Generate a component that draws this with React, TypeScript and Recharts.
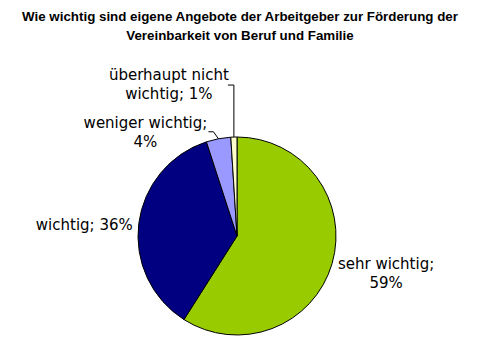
import { PieChart, Pie, Cell } from "recharts";

const categories = ["sehr wichtig", "wichtig", "weniger wichtig", "überhaupt nicht wichtig"];
const shares = [59, 36, 4, 1];
const labelLines = [
  ["sehr wichtig;", "59%"],
  ["wichtig; 36%"],
  ["weniger wichtig;", "4%"],
  ["überhaupt nicht", "wichtig; 1%"],
];

const COLORS = ["#99CC00", "#000080", "#9999FF", "#FFFFCC"];
const RAD = Math.PI / 180;

const data = categories.map((name, i) => ({ name, value: shares[i] }));

// label placement relative to the arc point at each slice's middle
const LAYOUT = [
  { dx: 54, dy: 5, anchor: "middle", leader: null },
  { dx: -6, dy: 6, anchor: "end", leader: null },
  { dx: -73, dy: -11, anchor: "middle", leader: [[0, 0], [-5, -7], [-10, -7]] },
  { dx: -65, dy: -57, anchor: "middle", leader: [[0, 0], [0, -52], [-6, -52]] },
];

function renderLabel(props: any) {
  const { cx, cy, midAngle, outerRadius, index } = props;
  const px = cx + outerRadius * Math.cos(-midAngle * RAD);
  const py = cy + outerRadius * Math.sin(-midAngle * RAD);
  const l = LAYOUT[index];
  const lines = labelLines[index];
  return (
    <g key={`lbl-${index}`}>
      {l.leader && (
        <polyline
          points={l.leader.map(([x, y]) => `${px + x},${py + y}`).join(" ")}
          fill="none"
          stroke="#000"
          strokeWidth={1}
        />
      )}
      <text
        x={px + l.dx}
        y={py + l.dy}
        textAnchor={l.anchor as any}
        fontFamily="DejaVu Sans, Verdana, sans-serif"
        fontSize={15}
        fill="#000"
      >
        {lines.map((t, j) => (
          <tspan key={j} x={px + l.dx} dy={j === 0 ? 0 : 19}>
            {t}
          </tspan>
        ))}
      </text>
    </g>
  );
}

export default function App() {
  return (
    <div style={{ position: "absolute", left: 0, top: 0, width: 477, height: 361, background: "#fff" }}>
      <div
        style={{
          position: "absolute",
          left: 0,
          top: 7,
          width: 480,
          textAlign: "center",
          fontFamily: "'Liberation Sans', Arial, sans-serif",
          fontWeight: "bold",
          fontSize: 13.33,
          lineHeight: "19px",
          color: "#000",
        }}
      >
        Wie wichtig sind eigene Angebote der Arbeitgeber zur Förderung der
        <br />
        Vereinbarkeit von Beruf und Familie
      </div>
      <PieChart
        width={477}
        height={361}
        margin={{ top: 0, right: 0, bottom: 0, left: 0 }}
        style={{ position: "absolute", left: 0, top: 0 }}
      >
        <Pie
          data={data}
          dataKey="value"
          nameKey="name"
          cx={237}
          cy={236}
          outerRadius={99}
          startAngle={90}
          endAngle={-270}
          stroke="#000"
          strokeWidth={1}
          label={renderLabel}
          labelLine={false}
          isAnimationActive={false}
        >
          {data.map((d, i) => (
            <Cell key={d.name} fill={COLORS[i]} />
          ))}
        </Pie>
      </PieChart>
    </div>
  );
}
